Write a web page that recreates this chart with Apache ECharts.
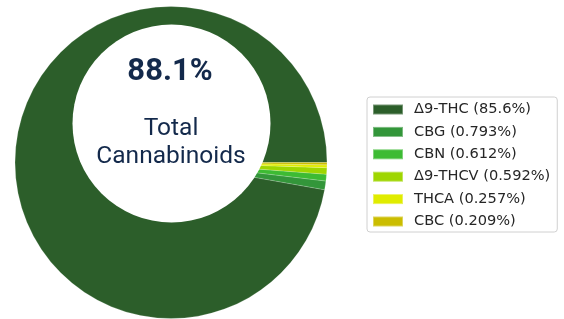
<!DOCTYPE html>
<html>
<head>
<meta charset="utf-8">
<script src="https://cdn.jsdelivr.net/npm/echarts@6/dist/echarts.min.js"></script>
<style>
  html, body { margin: 0; padding: 0; background: #fff; }
  #main { width: 564px; height: 319px; }
</style>
</head>
<body>
<div id="main"></div>
<script>
var myChart = echarts.init(document.getElementById('main'));

// cannabinoid names and percentages
const names = ['Δ9-THC', 'CBG', 'CBN', 'Δ9-THCV', 'THCA', 'CBC'];
const values = [85.6, 0.793, 0.612, 0.592, 0.257, 0.209];
const colors = ['#2c5e2a', '#33963a', '#3dbb33', '#9fd600', '#e0ec00', '#cbbd00'];
const totalLabel = '88.1%';
const subLabel = 'Total\nCannabinoids';

const data = names.map(function (n, i) {
  return {
    name: n,
    value: values[i],
    itemStyle: { color: colors[i] }
  };
});

const option = {
  animation: false,
  legend: {
    orient: 'vertical',
    left: 367,
    top: 97,
    padding: [4, 7, 2, 5],
    itemWidth: 30,
    itemHeight: 10,
    itemGap: 5.4,
    icon: 'rect',
    borderColor: '#d0d0d0',
    borderWidth: 1,
    borderRadius: 3,
    textStyle: {
      fontFamily: 'DejaVu Sans',
      fontSize: 14.6,
      lineHeight: 17,
      color: '#262626',
      padding: [0, 0, 0, 6]
    },
    formatter: function (name) {
      var i = names.indexOf(name);
      return name + ' (' + values[i] + '%)';
    },
    data: names
  },
  series: [
    {
      type: 'pie',
      center: [171, 162.5],
      radius: [0, 156],
      startAngle: 0,
      clockwise: false,
      label: { show: false },
      labelLine: { show: false },
      silent: true,
      itemStyle: { borderColor: 'rgba(255,255,255,0.35)', borderWidth: 0.5 },
      data: data
    }
  ],
  graphic: [
    {
      type: 'circle',
      z: 100,
      shape: { cx: 171.5, cy: 123.5, r: 99 },
      style: { fill: '#fff' }
    },
    {
      type: 'text',
      z: 101,
      x: 170,
      y: 72,
      style: {
        text: totalLabel,
        font: 'bold 31px Roboto',
        fill: '#13294b',
        align: 'center',
        verticalAlign: 'middle'
      }
    },
    {
      type: 'text',
      z: 101,
      x: 171,
      y: 143,
      style: {
        text: subLabel,
        font: '24.5px Roboto',
        lineHeight: 28,
        fill: '#13294b',
        align: 'center',
        verticalAlign: 'middle'
      }
    }
  ]
};

myChart.setOption(option);
</script>
</body>
</html>
